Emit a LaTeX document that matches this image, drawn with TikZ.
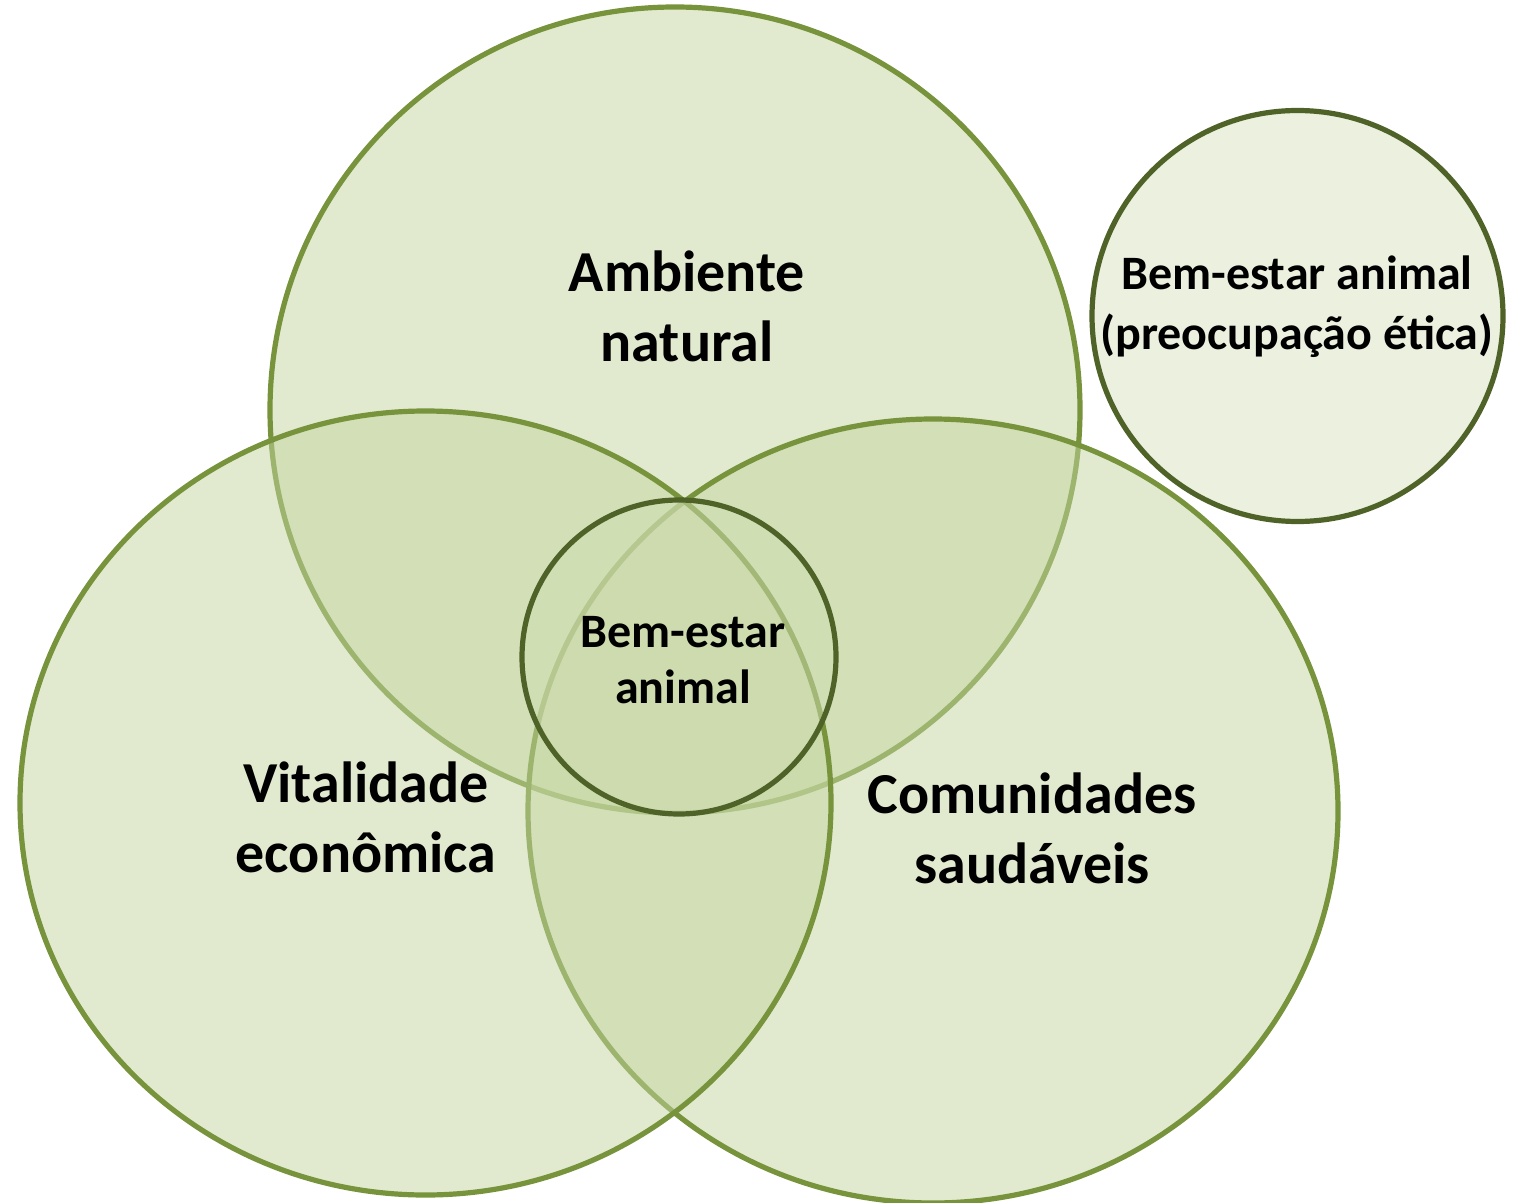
\documentclass[tikz,border=0pt]{standalone}
\usepackage{fontspec}
\setmainfont{Carlito}
\usetikzlibrary{shapes.geometric}
\definecolor{setFill}{HTML}{C4D6A0}
\definecolor{setLine}{HTML}{77933C}
\definecolor{coreLine}{HTML}{4F6228}
\definecolor{coreFill}{HTML}{D0DDB2}
\definecolor{ethicFill}{HTML}{EBF0DF}

\begin{document}
\begin{tikzpicture}[
    x=0.5pt, y=-0.5pt,
    set/.style={%
      ellipse,
      draw=setLine,
      line width=2.6pt,
      fill=setFill,
      fill opacity=0.5,
      inner sep=0pt,
    },
    core/.style={%
      circle,
      draw=coreLine,
      line width=2.6pt,
      fill=coreFill,
      fill opacity=0.5,
      inner sep=0pt,
    },
    bigtext/.style={%
      font=\bfseries\fontsize{29}{35}\selectfont,
      align=center,
    },
    smalltext/.style={%
      font=\bfseries\fontsize{24}{28}\selectfont,
      align=center,
    },
  ]
    \useasboundingbox (0,0) rectangle (1519,1203);

    % the three sets
    \node [set, minimum width=405pt, minimum height=403pt] (amb) at (675,410) {};
    \node [set, minimum width=405pt, minimum height=392pt] (com) at (933,811) {};
    \node [set, minimum width=405.5pt, minimum height=392pt] (vit) at (425.5,803) {};

    % animal welfare
    \node [core, minimum size=157pt] (bea) at (679,657) {};
    \node [core, fill=ethicFill, fill opacity=1, minimum width=205.5pt] (etica) at (1297.5,316) {};

    \node [bigtext] (ambText) at (687,306) {Ambiente\\natural};
    \node [bigtext] (vitText) at (366,817) {Vitalidade\\econômica};
    \node [bigtext] (comText) at (1032,828) {Comunidades\\saudáveis};
    \node [smalltext] (beaText) at (683,660) {Bem-estar\\animal};
    \node [smalltext, font=\bfseries\fontsize{24}{30}\selectfont] (eticaText) at (1297,307) {Bem-estar animal\\(preocupação ética)};
\end{tikzpicture}
\end{document}
